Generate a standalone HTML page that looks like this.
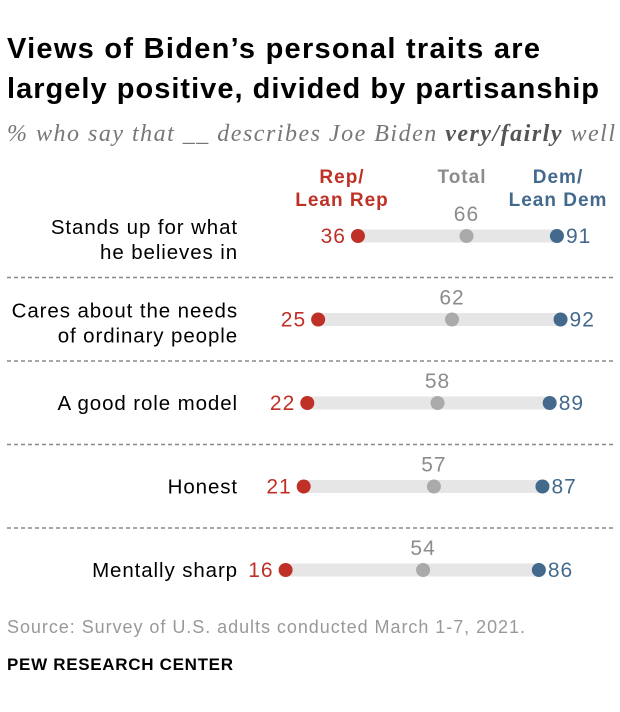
<!DOCTYPE html>
<html><head><meta charset="utf-8"><style>
body{margin:0;background:#fff;}
svg{display:block;font-family:"Liberation Sans",Arial,sans-serif;}
</style></head><body>
<svg id="c" width="620" height="712">
<text x="7" y="58" font-size="29" font-weight="bold" fill="#000" textLength="533" lengthAdjust="spacing">Views of Biden’s personal traits are</text>
<text x="7" y="98" font-size="29" font-weight="bold" fill="#000" textLength="592" lengthAdjust="spacing">largely positive, divided by partisanship</text>
<text x="7" y="141" font-size="24" font-style="italic" fill="#777" font-family="Liberation Serif,serif" textLength="608" lengthAdjust="spacing">% who say that __ describes Joe Biden <tspan font-weight="bold" fill="#555">very/fairly</tspan> well</text>
<g font-size="19" font-weight="bold" text-anchor="middle" letter-spacing="1">
<text x="342" y="183" fill="#bf3127">Rep/<tspan x="342" dy="23">Lean Rep</tspan></text>
<text x="462" y="183" fill="#8c8c8c">Total</text>
<text x="558" y="183" fill="#436a8d">Dem/<tspan x="558" dy="23">Lean Dem</tspan></text>
</g>
<g id="rows"></g>
<text x="7" y="633" font-size="18" fill="#999" textLength="518" lengthAdjust="spacing">Source: Survey of U.S. adults conducted March 1-7, 2021.</text>
<text x="7" y="670" font-size="17" font-weight="bold" fill="#000" textLength="226" lengthAdjust="spacing">PEW RESEARCH CENTER</text>
</svg>
<script>
const categories=[["Stands up for what","he believes in"],["Cares about the needs","of ordinary people"],["A good role model"],["Honest"],["Mentally sharp"]];
const repValues=[36,25,22,21,16];
const totalValues=[66,62,58,57,54];
const demValues=[91,92,89,87,86];
const NS="http://www.w3.org/2000/svg";
const g=document.getElementById('rows');
function x(v){return 227.7+v*3.618;}
function y(i){return 236+i*83.5;}
function mk(t,a){const e=document.createElementNS(NS,t);for(const k in a)e.setAttribute(k,a[k]);g.appendChild(e);return e;}
categories.forEach((c,i)=>{
 const cy=y(i);
 if(i>0){const l=mk('line',{x1:7,x2:613,y1:cy-42,y2:cy-42,stroke:'#888','stroke-width':1.5,'stroke-dasharray':'4,3'});
 
 }
 const lab=mk('text',{x:238,'font-size':20.5,'letter-spacing':0.9,'text-anchor':'end',fill:'#000'});
 
 
 if(c.length===2){lab.setAttribute('y',cy-2);
  const t1=document.createElementNS(NS,'tspan');t1.setAttribute('x',238);t1.textContent=c[0];lab.appendChild(t1);
  const t2=document.createElementNS(NS,'tspan');t2.setAttribute('x',238);t2.setAttribute('dy',25);t2.textContent=c[1];lab.appendChild(t2);
 } else {lab.setAttribute('y',cy+7);lab.textContent=c[0];}
 const bar=mk('line',{x1:x(repValues[i]),x2:x(demValues[i]),y1:cy,y2:cy,stroke:'#e6e6e6','stroke-width':13});
 
 
 const r=mk('circle',{cx:x(repValues[i]),cy:cy,r:7,fill:'#bf3127'});
 
 
 const t=mk('circle',{cx:x(totalValues[i]),cy:cy,r:7,fill:'#aaa'});
 
 
 const d=mk('circle',{cx:x(demValues[i]),cy:cy,r:7,fill:'#436a8d'});
 
 
 const rl=mk('text',{x:x(repValues[i])-12,y:cy+7,'font-size':21,'letter-spacing':1,'text-anchor':'end',fill:'#bf3127'});
 rl.textContent=repValues[i];
 
 
 const tl=mk('text',{x:x(totalValues[i]),y:cy-15,'font-size':21,'letter-spacing':1,'text-anchor':'middle',fill:'#8c8c8c'});
 tl.textContent=totalValues[i];
 
 
 const dl=mk('text',{x:x(demValues[i])+9,y:cy+7,'font-size':21,'letter-spacing':1,fill:'#436a8d'});
 dl.textContent=demValues[i];
 
 
});
</script>
</body></html>
